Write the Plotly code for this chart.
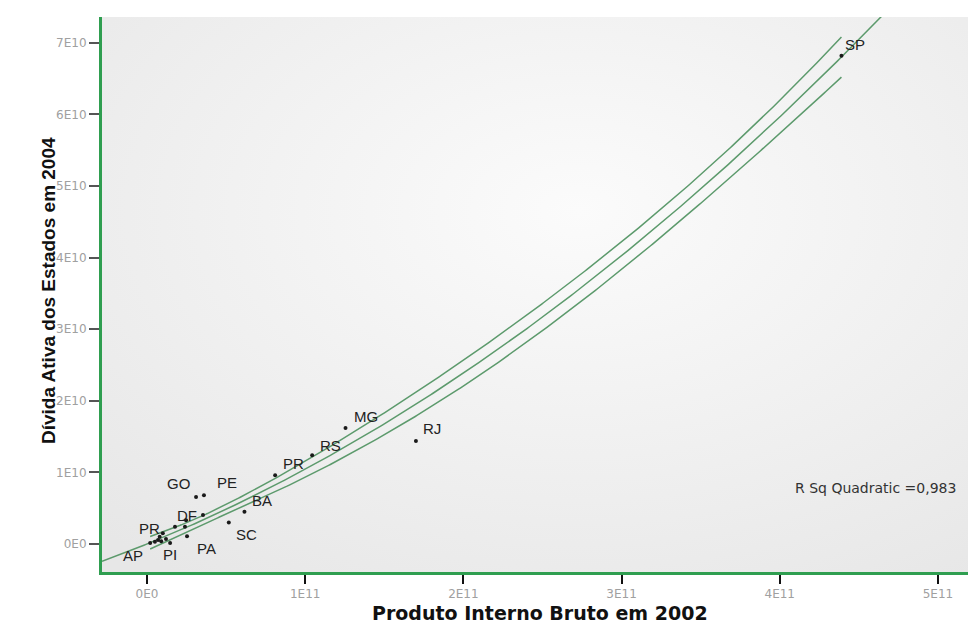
import numpy as np
import urllib.parse
import plotly.graph_objects as go

# ---------------- data ----------------
states = ["SP", "RJ", "MG", "RS", "PR", "BA", "SC", "PE", "GO", "DF", "PA", "PI", "PR", "AP",
          "", "", "", "", "", "", "", ""]
pib_2002 = [4.39e11, 1.70e11, 1.255e11, 1.044e11, 0.81e11, 0.616e11, 0.517e11, 0.36e11,
            0.31e11, 0.354e11, 0.253e11, 0.146e11, 0.10e11, 0.02e11,
            0.05e11, 0.07e11, 0.08e11, 0.177e11, 0.24e11, 0.247e11, 0.12e11, 0.09e11]
divida_2004 = [6.82e10, 1.44e10, 1.62e10, 1.24e10, 0.96e10, 0.45e10, 0.30e10, 0.68e10,
               0.656e10, 0.405e10, 0.11e10, 0.014e10, 0.15e10, 0.014e10,
               0.03e10, 0.056e10, 0.10e10, 0.24e10, 0.24e10, 0.33e10, 0.07e10, 0.04e10]

# quadratic fit y = c0 + c1*x + c2*x^2 (coefficients)
fit_coef = [0.0, 0.0895, 1.49e-13]
ci_half_at_max = 0.28e10          # half width of the mean CI at the largest x
r_sq_text = "R Sq Quadratic =0,983"

x_tickvals = [0, 1e11, 2e11, 3e11, 4e11, 5e11]
x_ticktext = ["0E0", "1E11", "2E11", "3E11", "4E11", "5E11"]
y_tickvals = [0, 1e10, 2e10, 3e10, 4e10, 5e10, 6e10, 7e10]
y_ticktext = ["0E0", "1E10", "2E10", "3E10", "4E10", "5E10", "6E10", "7E10"]

x_range = [-0.2845e11, 5.19e11]
y_range = [-0.391e10, 7.36e10]

# label offsets in pixels (style)
label_shift = {
    0: (14, 11), 1: (16, 12), 2: (20, 12), 3: (18, 10), 4: (18, 12), 5: (18, 11),
    6: (18, -12), 7: (23, 13), 8: (-18, 14), 9: (-16, 0), 10: (19, -12), 11: (0, -11),
    12: (-13, 5), 13: (-17, -12),
}

# ---------------- fit lines ----------------
px = np.array(pib_2002)
X = np.column_stack([np.ones_like(px), px, px ** 2])
cov = np.linalg.inv(X.T @ X)

def lev(x):
    x0 = np.column_stack([np.ones_like(x), x, x ** 2])
    return np.sqrt(np.einsum("ij,jk,ik->i", x0, cov, x0))

def curve(x):
    return fit_coef[0] + fit_coef[1] * x + fit_coef[2] * x ** 2

x_fit = np.linspace(x_range[0], 5.0e11, 400)
x_ci = np.linspace(px.min(), px.max(), 400)
half = ci_half_at_max * lev(x_ci) / lev(np.array([px.max()]))[0]

line_color = "#5c9a6c"
fig = go.Figure()
fig.add_trace(go.Scatter(x=x_ci, y=curve(x_ci) + half, mode="lines",
                         line=dict(color=line_color, width=1.5), hoverinfo="skip"))
fig.add_trace(go.Scatter(x=x_fit, y=curve(x_fit), mode="lines",
                         line=dict(color=line_color, width=1.5), hoverinfo="skip"))
fig.add_trace(go.Scatter(x=x_ci, y=curve(x_ci) - half, mode="lines",
                         line=dict(color=line_color, width=1.5), hoverinfo="skip"))
fig.add_trace(go.Scatter(x=pib_2002, y=divida_2004, mode="markers",
                         marker=dict(color="#1a1a1a", size=4), text=states))

annotations = []
for i, s in enumerate(states):
    if not s:
        continue
    dx, dy = label_shift.get(i, (15, 10))
    annotations.append(dict(x=pib_2002[i], y=divida_2004[i], text=s, showarrow=False,
                            xshift=dx, yshift=dy, xanchor="center", yanchor="middle",
                            font=dict(family="Liberation Sans, Arial", size=15, color="#222")))

annotations.append(dict(x=0.988, y=0.151, xref="paper", yref="paper", text=r_sq_text,
                        showarrow=False, xanchor="right", yanchor="middle",
                        font=dict(family="DejaVu Sans", size=14, color="#333")))
annotations.append(dict(x=0.506, y=-0.0505, xref="paper", yref="paper",
                        text="<b>Produto Interno Bruto em 2002</b>", showarrow=False,
                        xanchor="center", yanchor="top",
                        font=dict(family="DejaVu Sans", size=19, color="#111")))
annotations.append(dict(x=-0.0624, y=0.508, xref="paper", yref="paper",
                        text="<b>Dívida Ativa dos Estados em 2004</b>", showarrow=False,
                        textangle=-90, xanchor="center", yanchor="middle",
                        font=dict(family="Liberation Sans, Arial", size=19, color="#111")))

svg = ('<svg xmlns="http://www.w3.org/2000/svg" width="866" height="555">'
       '<defs><radialGradient id="g" cx="0.55" cy="0.35" r="0.8">'
       '<stop offset="0" stop-color="#fbfbfb"/><stop offset="1" stop-color="#e7e7e7"/>'
       '</radialGradient></defs><rect width="866" height="555" fill="url(#g)"/></svg>')
bg_src = "data:image/svg+xml;charset=utf-8," + urllib.parse.quote(svg)

axis_green = "#2f9e50"
fig.update_layout(
    width=968, height=630,
    margin=dict(l=102, r=0, t=17, b=58),
    paper_bgcolor="white",
    plot_bgcolor="rgba(0,0,0,0)",
    showlegend=False,
    annotations=annotations,
    images=[dict(source=bg_src, xref="paper", yref="paper", x=0, y=1, sizex=1, sizey=1,
                 xanchor="left", yanchor="top", sizing="stretch", layer="below")],
    xaxis=dict(range=x_range, tickvals=x_tickvals, ticktext=x_ticktext, showgrid=False,
               zeroline=False, showline=True, linecolor=axis_green, linewidth=3,
               ticks="outside", ticklen=9, tickwidth=2, tickcolor="#111",
               tickfont=dict(family="DejaVu Sans", size=12, color="#a0a0a0")),
    yaxis=dict(range=y_range, tickvals=y_tickvals, ticktext=y_ticktext, showgrid=False,
               zeroline=False, showline=True, linecolor=axis_green, linewidth=3,
               ticks="outside", ticklen=10, tickwidth=2, tickcolor="#555",
               tickfont=dict(family="DejaVu Sans", size=12, color="#a0a0a0")),
)

fig.write_html("out.html", config={"displayModeBar": False},
               post_script="document.body.style.margin='0';")
